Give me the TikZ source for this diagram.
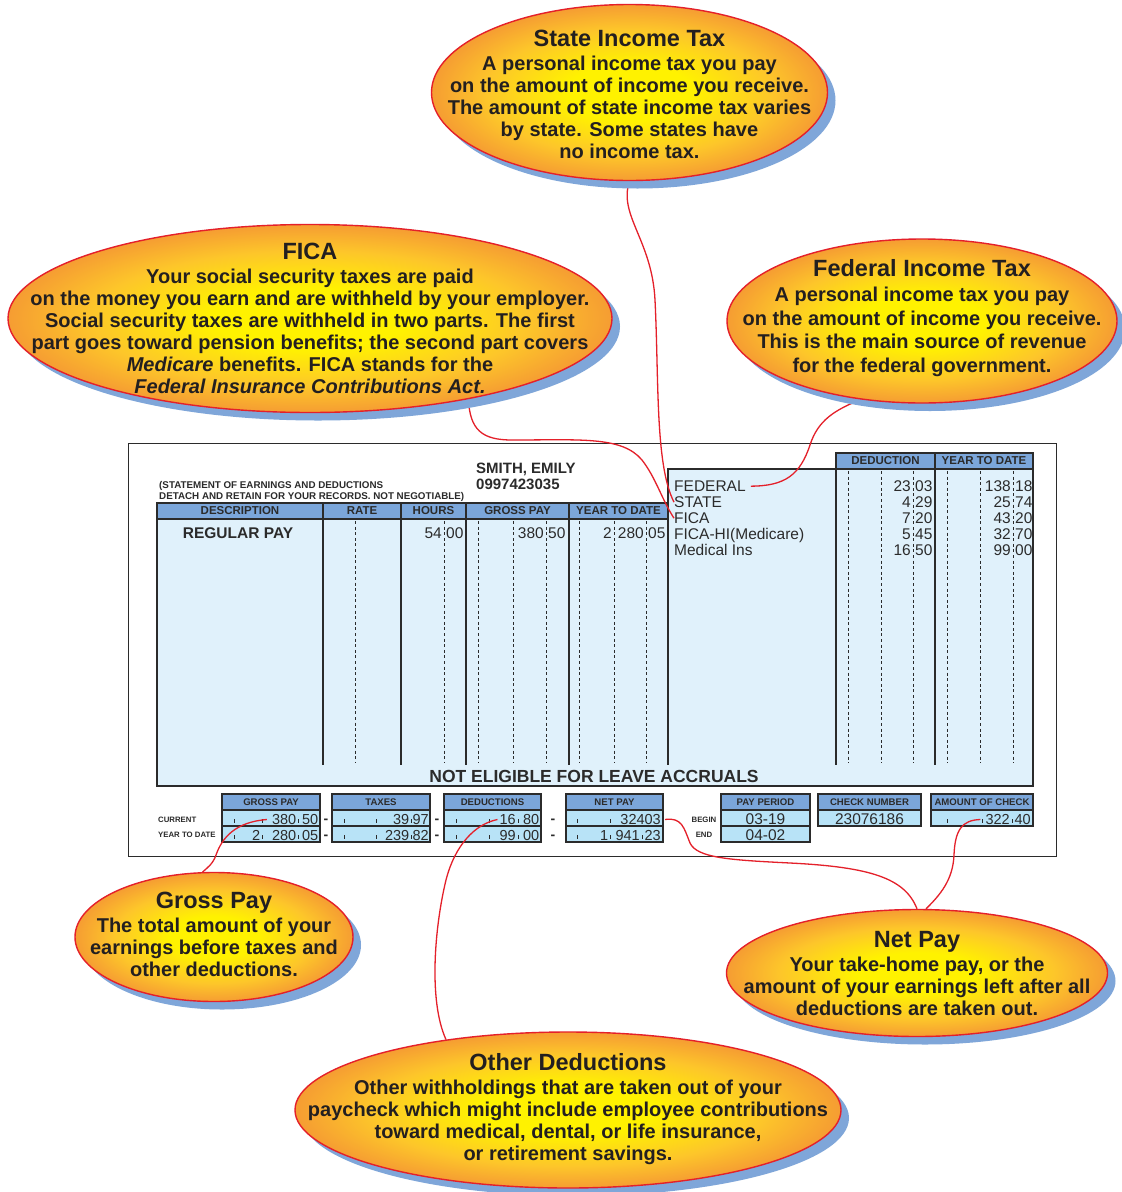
\documentclass[tikz,border=0pt]{standalone}
\usepackage{fontspec}
\setmainfont{Liberation Sans}
\usetikzlibrary{shapes.geometric,shadows}
\pgfdeclarelayer{back}
\pgfsetlayers{back,main}
\definecolor{headblue}{HTML}{7BA6DA}
\definecolor{bodyblue}{HTML}{E0F1FB}
\definecolor{cellblue}{HTML}{B8E3F7}
\definecolor{bubred}{HTML}{E4202A}
\definecolor{shadowblue}{HTML}{7FA6D9}
\definecolor{bubyel}{HTML}{FFF200}
\definecolor{bubmid}{HTML}{FDC62A}
\definecolor{buborange}{HTML}{F28B36}
\definecolor{ink}{HTML}{231F20}
\definecolor{rule}{HTML}{2B2B2B}
\pgfdeclareradialshading{bubshade}{\pgfpoint{0bp}{0bp}}{color(0bp)=(bubyel); color(8bp)=(bubyel); color(18bp)=(bubmid); color(28bp)=(buborange); color(50bp)=(buborange)}
\tikzset{
 bubble/.style={ellipse, draw=bubred, line width=1.4pt, shading=bubshade, inner sep=0pt,
   drop shadow={shadow xshift=8pt, shadow yshift=-8pt, fill=shadowblue, opacity=1}},
 btext/.style={align=center, text=ink, inner sep=0pt, font=\bfseries\fontsize{20}{22}\selectfont},
 conn/.style={draw=bubred, line width=1.3pt},
 stubline/.style={draw=rule, line width=1.3pt},
 dashcol/.style={draw=rule, line width=0.9pt, dash pattern=on 3pt off 2.6pt},
 hdr/.style={inner sep=0pt, text=rule, font=\bfseries\fontsize{11.5}{12}\selectfont},
 boxhdr/.style={inner sep=0pt, text=rule, font=\bfseries\fontsize{9.6}{10}\selectfont},
 val/.style={inner sep=0pt, text=rule, font=\fontsize{15.5}{16}\selectfont},
 cval/.style={inner sep=0pt, text=rule, font=\fontsize{14.5}{15}\selectfont},
 tinylab/.style={inner sep=0pt, text=rule, font=\bfseries\fontsize{7.8}{8}\selectfont},
 tickmark/.style={draw=rule, line width=0.9pt},
}
\newcommand\bubtitle[1]{{\fontsize{23.5}{22}\selectfont #1}}
\newcommand\paybox[5]{%
 \draw[stubline, fill=headblue] (#2,794) rectangle (#3,810);
 \draw[stubline, fill=cellblue] (#2,810) rectangle (#3,826);
 \ifnum#5>1 \draw[stubline, fill=cellblue] (#2,826) rectangle (#3,842);\fi
 \node[boxhdr] (#1) at ({(#2+#3)/2},802) {#4};
}
\newcommand\cellticks[3]{\foreach \t in {#2} {\draw[tickmark] (#1+\t,#3-7) -- (#1+\t,#3-3);}}
\begin{document}
\begin{tikzpicture}[x=1pt,y=-1pt]
\begin{pgfonlayer}{back}
\path[use as bounding box, fill=white] (0,0) rectangle (1122,1192);
\end{pgfonlayer}

% ---------- bubbles ----------
\node[bubble, minimum width=396pt, minimum height=176pt] (statebub) at (629.5,92.5) {};
\node[btext] (statetxt) at (629.5,94) {\bubtitle{State Income Tax}\\[2pt]
A personal income tax you pay\\
on the amount of income you receive.\\
The amount of state income tax varies\\
by state. Some states have\\
no income tax.};

\node[bubble, minimum width=604pt, minimum height=188pt] (ficabub) at (310,318.5) {};
\node[btext] (ficatxt) at (310,318) {\bubtitle{FICA}\\[2pt]
Your social security taxes are paid\\
on the money you earn and are withheld by your employer.\\
Social security taxes are withheld in two parts. The first\\
part goes toward pension benefits; the second part covers\\
\textit{Medicare} benefits. FICA stands for the\\
\textit{Federal Insurance Contributions Act.}};

\node[bubble, minimum width=390pt, minimum height=164pt] (fedbub) at (922,321) {};
\node[btext, font=\bfseries\fontsize{20}{23.5}\selectfont] (fedtxt) at (922,318) {\bubtitle{Federal Income Tax}\\[2pt]
A personal income tax you pay\\
on the amount of income you receive.\\
This is the main source of revenue\\
for the federal government.};

\node[bubble, minimum width=278pt, minimum height=129pt] (grossbub) at (214,937) {};
\node[btext] (grosstxt) at (214,934.5) {\bubtitle{Gross Pay}\\[2pt]
The total amount of your\\
earnings before taxes and\\
other deductions.};

\node[bubble, minimum width=546pt, minimum height=156pt] (otherbub) at (568,1110) {};
\node[btext] (othertxt) at (568,1109.5) {\bubtitle{Other Deductions}\\[2pt]
Other withholdings that are taken out of your\\
paycheck which might include employee contributions\\
toward medical, dental, or life insurance,\\
or retirement savings.};

\node[bubble, minimum width=381pt, minimum height=127pt] (netbub) at (917,973) {};
\node[btext] (nettxt) at (917,973.5) {\bubtitle{Net Pay}\\[2pt]
Your take-home pay, or the\\
amount of your earnings left after all\\
deductions are taken out.};

\begin{pgfonlayer}{back}
% ---------- pay stub ----------
\node[draw=rule, line width=1.4pt, minimum width=928pt, minimum height=413pt, inner sep=0pt, anchor=north west] (stub) at (128,443) {};
\draw[stubline, fill=bodyblue] (157,503) -- (668,503) -- (668,469) -- (1033,469) -- (1033,786) -- (157,786) -- cycle;
\draw[stubline, fill=headblue] (157,503) rectangle (668,519);
\draw[stubline, fill=headblue] (836,453) rectangle (1033,469);
\draw[stubline] (935,453) -- (935,469);
\foreach \x in {323,401,466,569} \draw[stubline] (\x,503) -- (\x,765);
\draw[stubline] (668,519) -- (668,765);
\foreach \x in {836,935} \draw[stubline] (\x,469) -- (\x,765);
\foreach \x in {355,444,478,513,546,579,614,646} \draw[dashcol] (\x,521) -- (\x,763);
\foreach \x in {848,881,913,947,980,1013} \draw[dashcol] (\x,471) -- (\x,763);

\node[anchor=base west, inner sep=0pt, text=rule, font=\bfseries\fontsize{15}{16}\selectfont] (empname) at (476,473.5) {SMITH, EMILY};
\node[anchor=base west, inner sep=0pt, text=rule, font=\bfseries\fontsize{15}{16}\selectfont] (empid) at (476,489.5) {0997423035};
\node[anchor=base west, inner sep=0pt, text=rule, font=\bfseries\fontsize{9.8}{10}\selectfont] (stmt1) at (159,488.5) {(STATEMENT OF EARNINGS AND DEDUCTIONS};
\node[anchor=base west, inner sep=0pt, text=rule, font=\bfseries\fontsize{9.8}{10}\selectfont] (stmt2) at (159,499) {DETACH AND RETAIN FOR YOUR RECORDS. NOT NEGOTIABLE)};

\node[hdr] (hdesc) at (240,511) {DESCRIPTION};
\node[hdr] (hrate) at (362,511) {RATE};
\node[hdr] (hhours) at (433.5,511) {HOURS};
\node[hdr] (hgross) at (517.5,511) {GROSS PAY};
\node[hdr] (hytd) at (618.5,511) {YEAR TO DATE};
\node[hdr] (hded) at (885.5,461) {DEDUCTION};
\node[hdr] (hytdb) at (984,461) {YEAR TO DATE};

\node[anchor=base, inner sep=0pt, text=rule, font=\bfseries\fontsize{15.5}{16}\selectfont] (regpay) at (238,538.5) {REGULAR PAY};
\node[val, anchor=base east] (hrsa) at (442,538.5) {54};
\node[val, anchor=base west] (hrsb) at (446,538.5) {00};
\node[val, anchor=base east] (gpa) at (544,538.5) {380};
\node[val, anchor=base west] (gpb) at (548,538.5) {50};
\node[val, anchor=base east] (yta) at (612,538.5) {2};
\node[val, anchor=base east] (ytb) at (644,538.5) {280};
\node[val, anchor=base west] (ytc) at (648,538.5) {05};

\node[val, anchor=base west] (federal) at (674,491.5) {FEDERAL};
\node[val, anchor=base west] (state) at (674,507.5) {STATE};
\node[val, anchor=base west] (fica) at (674,523.5) {FICA};
\node[val, anchor=base west] (ficahi) at (674,539.5) {FICA-HI(Medicare)};
\node[val, anchor=base west] (medins) at (674,555.5) {Medical Ins};
\foreach \y/\a/\b/\c/\d [count=\i] in {491.5/23/03/138/18, 507.5/4/29/25/74, 523.5/7/20/43/20, 539.5/5/45/32/70, 555.5/16/50/99/00} {
  \node[val, anchor=base east] (dd\i) at (911,\y) {\a};
  \node[val, anchor=base west] (dc\i) at (915,\y) {\b};
  \node[val, anchor=base east] (yd\i) at (1011,\y) {\c};
  \node[val, anchor=base west] (yc\i) at (1015,\y) {\d};
}
\node[anchor=base, inner sep=0pt, text=rule, font=\bfseries\fontsize{17.5}{18}\selectfont] (noteligible) at (594,782) {NOT ELIGIBLE FOR LEAVE ACCRUALS};

% bottom boxes
\paybox{bgross}{222}{320}{GROSS PAY}{2}
\paybox{btaxes}{332}{430}{TAXES}{2}
\paybox{bded}{444}{541}{DEDUCTIONS}{2}
\paybox{bnet}{566}{663}{NET PAY}{2}
\paybox{bperiod}{721}{810}{PAY PERIOD}{2}
\paybox{bcheck}{818}{921}{CHECK NUMBER}{1}
\paybox{bamount}{931}{1033}{AMOUNT OF CHECK}{1}
\cellticks{222}{12,40,76}{826}\cellticks{222}{12,40,76}{842}
\cellticks{332}{12,44,79}{826}\cellticks{332}{12,44,79}{842}
\cellticks{444}{12,45,74}{826}\cellticks{444}{12,45,74}{842}
\cellticks{566}{11,44}{826}\cellticks{566}{11,44,76}{842}
\cellticks{931}{16,51,81}{826}

\node[cval, anchor=base east] (g380) at (296.5,824.5) {380};
\node[cval, anchor=base east] (gfifty) at (318.5,824.5) {50};
\node[cval, anchor=base east] (gtwo) at (260.5,840.5) {2};
\node[cval, anchor=base east] (g280) at (296.5,840.5) {280};
\node[cval, anchor=base east] (gfive) at (318.5,840.5) {05};
\node[cval, anchor=base east] (t39) at (409.5,824.5) {39};
\node[cval, anchor=base east] (t97) at (429,824.5) {97};
\node[cval, anchor=base east] (t239) at (409.5,840.5) {239};
\node[cval, anchor=base east] (t82) at (429,840.5) {82};
\node[cval, anchor=base east] (d16) at (516,824.5) {16};
\node[cval, anchor=base east] (d80) at (539.5,824.5) {80};
\node[cval, anchor=base east] (d99) at (516,840.5) {99};
\node[cval, anchor=base east] (d00) at (539.5,840.5) {00};
\node[cval, anchor=base east] (n324) at (661,824.5) {32403};
\node[cval, anchor=base east] (none) at (608.5,840.5) {1};
\node[cval, anchor=base east] (n941) at (640,840.5) {941};
\node[cval, anchor=base east] (n23) at (661,840.5) {23};
\node[val, anchor=base] (pbegin) at (765.5,824.5) {03-19};
\node[val, anchor=base] (pend) at (765.5,840.5) {04-02};
\node[val, anchor=base] (chknum) at (869.5,824.5) {23076186};
\node[cval, anchor=base east] (c322) at (1010,824.5) {322};
\node[cval, anchor=base east] (c40) at (1031,824.5) {40};
\foreach \x/\n in {326/a,437/b,553/c} {
  \node[anchor=base, inner sep=0pt, text=rule, font=\bfseries\fontsize{14}{14}\selectfont] (minus\n a) at (\x,823.5) {-};
  \node[anchor=base, inner sep=0pt, text=rule, font=\bfseries\fontsize{14}{14}\selectfont] (minus\n b) at (\x,839.5) {-};
}
\node[tinylab, anchor=base west] (lcur) at (158,822.5) {CURRENT};
\node[tinylab, anchor=base west] (lytd) at (158,837.5) {YEAR TO DATE};
\node[tinylab, anchor=base] (lbeg) at (704,822.5) {BEGIN};
\node[tinylab, anchor=base] (lend) at (704,837.5) {END};

% ---------- connectors ----------
\draw[conn] (statebub.south) .. controls (618,215) and (652,240) .. (655,300) .. controls (659,380) and (655,465) .. (state.west);
\draw[conn] (ficabub.-27) .. controls (470,430) and (482,440) .. (512,440) .. controls (580,440) and (622,436) .. (642,460) .. controls (656,478) and (662,500) .. (fica.west);
\draw[conn] (fedbub.-128) .. controls (835,410) and (818,420) .. (810,445) .. controls (800,475) and (785,486) .. ([xshift=5pt]federal.east);
\draw[conn] ([xshift=-5pt]g380.west) .. controls (235,822) and (222,838) .. (216,855) .. controls (213,864) and (207,868) .. (grossbub.100);
\draw[conn] ([xshift=-2pt]d16.west) .. controls (475,824) and (455,845) .. (446,880) .. controls (435,925) and (428,1000) .. (otherbub.150);
\draw[conn] ([xshift=4pt]n324.east) .. controls (682,817) and (684,828) .. (690,843) .. controls (697,858) and (730,860) .. (790,863) .. controls (870,867) and (905,878) .. (netbub.north);
\draw[conn] ([xshift=-5pt]c322.west) .. controls (962,820) and (955,830) .. (954,855) .. controls (953,880) and (940,895) .. (netbub.82);
\end{pgfonlayer}
\end{tikzpicture}
\end{document}
